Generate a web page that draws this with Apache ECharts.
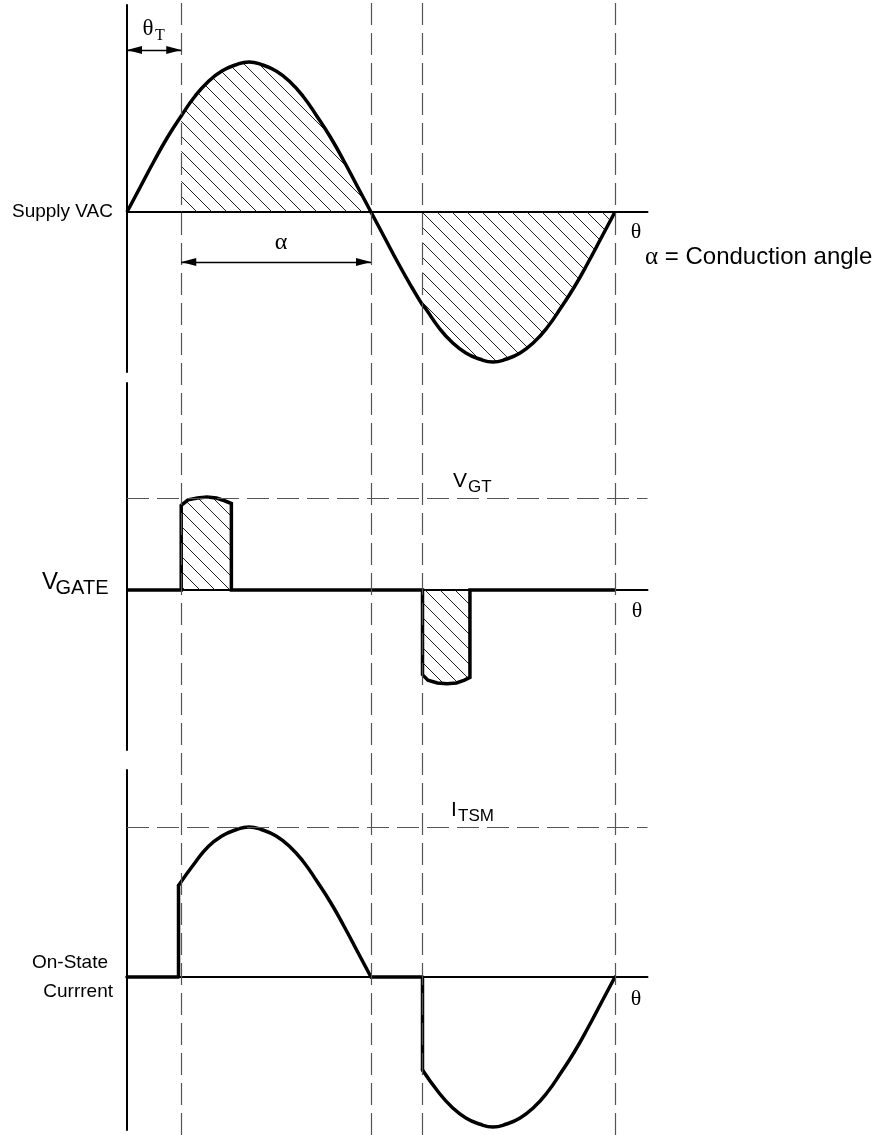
<!DOCTYPE html>
<html>
<head>
<meta charset="utf-8">
<script src="https://cdn.jsdelivr.net/npm/echarts@6/dist/echarts.min.js"></script>
<style>
  html, body { margin: 0; padding: 0; background: #fff; }
  #chart { width: 884px; height: 1135px; }
</style>
</head>
<body>
<div id="chart"></div>
<script>
// phase angle in degrees on x, values in "amplitude" units per panel
const dashedDeg = [40, 180, 218, 360];

const vacDeg = [0, 10, 20, 30, 40, 50, 60, 70, 80, 90, 100, 110, 120, 130, 140, 150, 160, 170, 180,
    190, 200, 210, 218, 220, 230, 240, 250, 260, 270, 280, 290, 300, 310, 320, 330, 340, 350, 360];
const vacVal = [0, 0.17, 0.34, 0.5, 0.64, 0.77, 0.87, 0.94, 0.98, 1, 0.98, 0.94, 0.87, 0.77, 0.64, 0.5, 0.34, 0.17, 0,
    -0.17, -0.34, -0.5, -0.62, -0.64, -0.77, -0.87, -0.94, -0.98, -1, -0.98, -0.94, -0.87, -0.77, -0.64, -0.5, -0.34, -0.17, 0];

const gateDeg = [0, 40, 40, 45, 52, 59, 66, 72, 77, 77, 218, 218, 222, 229, 236, 243, 249, 253, 253, 360];
const gateVal = [0, 0, 0.92, 0.98, 1.0, 1.01, 1.0, 0.97, 0.94, 0, 0, -0.92, -0.98, -1.01, -1.02, -1.01, -0.98, -0.95, 0, 0];

// on-state current: two conducting lobes, zero elsewhere
const curLobe1Deg = [38, 50, 60, 70, 80, 90, 100, 110, 120, 130, 140, 150, 160, 170, 180];
const curLobe1Val = [0.61, 0.76, 0.87, 0.94, 0.98, 1, 0.98, 0.94, 0.87, 0.77, 0.64, 0.5, 0.34, 0.17, 0];
const curLobe2Deg = [218, 230, 240, 250, 260, 270, 280, 290, 300, 310, 320, 330, 340, 350, 360];
const curLobe2Val = [-0.62, -0.77, -0.87, -0.94, -0.98, -1, -0.98, -0.94, -0.87, -0.77, -0.64, -0.5, -0.34, -0.17, 0];

const vgtLevel = 1;
const itsmLevel = 1;
const thetaTArrow = [0, 40];
const alphaArrow = [40, 180];

const SANS = '"Liberation Sans", Arial, sans-serif';
const SERIF = '"Liberation Serif", "Times New Roman", serif';

const pairs = (xs, ys) => xs.map((x, i) => [x, ys[i]]);
const vacPts = pairs(vacDeg, vacVal);
const lobe1 = pairs(curLobe1Deg, curLobe1Val);
const lobe2 = pairs(curLobe2Deg, curLobe2Val);
const curSteps = [
    [0, 0], [lobe1[0][0], 0], lobe1[0], null,
    lobe1[lobe1.length - 1], [lobe2[0][0], 0], lobe2[0],
];

const makeHatch = () => {
    const c = document.createElement('canvas');
    c.width = 15; c.height = 15;
    const ctx = c.getContext('2d');
    ctx.strokeStyle = '#222';
    ctx.lineWidth = 1;
    ctx.beginPath();
    ctx.moveTo(-2, -2); ctx.lineTo(17, 17);
    ctx.moveTo(-2, 13); ctx.lineTo(2, 17);
    ctx.moveTo(13, -2); ctx.lineTo(17, 2);
    ctx.stroke();
    return c;
};
const hatch = { image: makeHatch(), repeat: 'repeat' };

const GL = 127, GR = 236.5, XMAX = 384;
const grids = [
    { left: GL, right: GR, top: 0, height: 1135 },
    { left: GL, right: GR, top: 5, height: 367 },
    { left: GL, right: GR, top: 383, height: 367 },
    { left: GL, right: GR, top: 770, height: 360 },
];
const yRanges = [[0, 1], [-1.0667, 1.38], [-1.739, 2.25], [-1.02, 1.38]];

const axisLine = { show: true, lineStyle: { color: '#000', width: 2 } };
const xAxes = grids.map((g, i) => ({
    type: 'value', gridIndex: i, min: 0, max: XMAX, show: i > 0,
    axisLine, axisTick: { show: false }, axisLabel: { show: false }, splitLine: { show: false },
}));
const yAxes = grids.map((g, i) => ({
    type: 'value', gridIndex: i, min: yRanges[i][0], max: yRanges[i][1], show: i > 0,
    axisLine, axisTick: { show: false }, axisLabel: { show: false }, splitLine: { show: false },
}));

const dashStyle = { color: '#555', width: 1.2, type: [22, 8] };
const thick = { color: '#000', width: 3.5, join: 'miter' };
const thickRound = { color: '#000', width: 3.5, cap: 'round', join: 'round' };

const arrowLine = (range, y) => [{ coord: [range[0], y] }, { coord: [range[1], y] }];

const text = (str, x, y, size, family, align) => ({
    type: 'text', x, y, silent: true,
    style: { text: str, font: `${size}px ${family}`, fill: '#000', align: align || 'left', verticalAlign: 'middle' },
});

const lineSeries = (axis, data, extra) => Object.assign({
    type: 'line', xAxisIndex: axis, yAxisIndex: axis, showSymbol: false, silent: true, clip: false, data,
}, extra);

const chart = echarts.init(document.getElementById('chart'), null, { renderer: 'canvas' });
chart.setOption({
    animation: false,
    backgroundColor: '#fff',
    grid: grids,
    xAxis: xAxes,
    yAxis: yAxes,
    series: [
        lineSeries(0, [[0, 0.5]], {
            lineStyle: { opacity: 0 }, z: 1,
            markLine: {
                silent: true, symbol: 'none', label: { show: false }, lineStyle: dashStyle,
                data: dashedDeg.map(d => ({ xAxis: d })),
            },
        }),
        lineSeries(1, vacPts.filter(p => p[0] >= 40 && p[0] <= 180), {
            z: 2, smooth: true, lineStyle: { width: 0 }, areaStyle: { color: hatch, opacity: 1 },
        }),
        lineSeries(1, vacPts.filter(p => p[0] >= 218), {
            z: 2, smooth: true, lineStyle: { width: 0 }, areaStyle: { color: hatch, opacity: 1 },
        }),
        lineSeries(1, vacPts, {
            z: 4, smooth: true, lineStyle: thick,
            markLine: {
                silent: true, symbol: ['triangle', 'triangle'], symbolSize: [8, 15],
                symbolOffset: [[0, 7.5], [0, 7.5]],
                label: { show: false }, lineStyle: { color: '#000', width: 1.4, type: 'solid' },
                data: [arrowLine(thetaTArrow, 1.08), arrowLine(alphaArrow, -0.333)],
            },
        }),
        lineSeries(2, pairs(gateDeg, gateVal), {
            z: 4, lineStyle: thick, areaStyle: { color: hatch, opacity: 1 },
            markLine: {
                silent: true, symbol: 'none', label: { show: false }, lineStyle: dashStyle,
                data: [{ yAxis: vgtLevel }],
            },
        }),
        lineSeries(3, curSteps, {
            z: 4, lineStyle: thickRound, connectNulls: false,
            markLine: {
                silent: true, symbol: 'none', label: { show: false }, lineStyle: dashStyle,
                data: [{ yAxis: itsmLevel }],
            },
        }),
        lineSeries(3, lobe1, { z: 4, smooth: true, lineStyle: thickRound }),
        lineSeries(3, lobe2, { z: 4, smooth: true, lineStyle: thickRound }),
    ],
    graphic: [
        text('Supply VAC', 113, 212, 19, SANS, 'right'),
        text('θ', 148, 29, 23, SERIF, 'center'),
        text('T', 155, 36, 16, SERIF),
        text('α', 281, 243, 24, SERIF, 'center'),
        text('θ', 636, 232, 22, SERIF, 'center'),
        {
            type: 'text', x: 645, y: 257, silent: true,
            style: {
                text: '{a|α} = Conduction angle', font: `24px ${SANS}`, fill: '#000', verticalAlign: 'middle',
                rich: { a: { fontFamily: SERIF, fontSize: 25 } },
            },
        },
        text('V', 42, 582, 24, SANS),
        text('GATE', 55.5, 588, 20, SANS),
        text('V', 453, 481, 21, SANS),
        text('GT', 468, 487, 17, SANS),
        text('θ', 637, 611, 22, SERIF, 'center'),
        text('I', 451, 810, 21, SANS),
        text('TSM', 458, 816, 17, SANS),
        text('On-State', 108, 963, 19, SANS, 'right'),
        text('Currrent', 113, 992, 19, SANS, 'right'),
        text('θ', 636, 999, 22, SERIF, 'center'),
    ],
});
</script>
</body>
</html>
